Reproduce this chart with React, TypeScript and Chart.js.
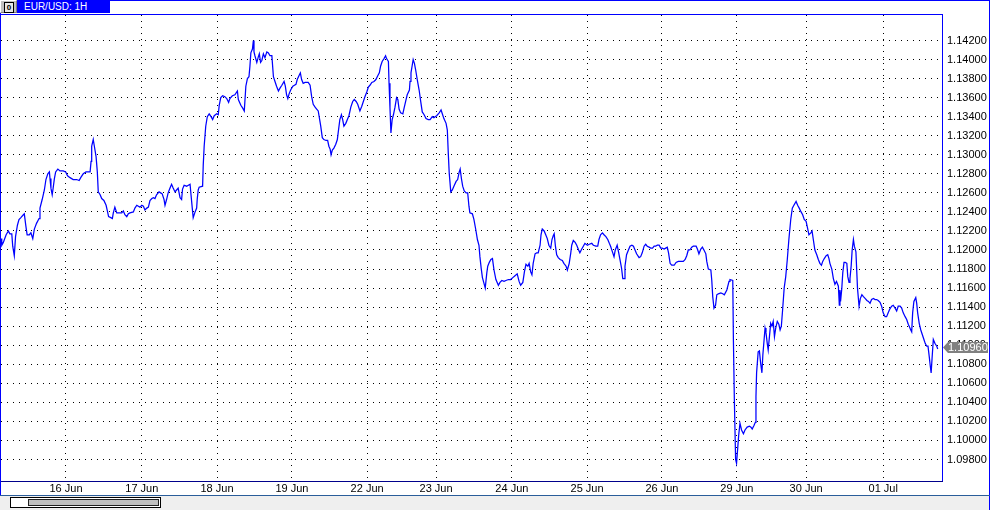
import { useEffect, useRef } from 'react';
import { Chart, registerables } from 'chart.js';

Chart.register(...registerables);

// ---------- DATA (EUR/USD, 1H closes) ----------
// hours since 16 Jun 00:00 (bar position) and close prices, in parallel arrays
const hoursA = [
  -20.7,-20.5,-20.0,-19.1,-18.4,-17.9,-17.3,-17.0,-16.5,-16.1,
  -15.5,-15.0,-14.4,-13.6,-13.3,-12.8,-12.4,-11.7,-11.2,-10.6,
  -10.1,-9.4,-8.6,-8.3,-7.6,-6.9,-6.4,-5.8,-5.3,-5.1,
  -4.8,-4.4,-4.1,-3.7,-3.3,-2.6,-1.9,-0.9,-0.1,0.5,
  1.3,2.3,3.4,4.2,4.7,5.5,6.4,7.1,7.7,8.0,
  8.2,8.7,9.0,9.6,10.0,10.3,10.9,11.4,12.1,12.8,
  13.2,13.6,14.3,14.8,15.1,15.6,16.2,17.0,17.8,18.3,
  18.8,19.4,19.9,20.4,21.5,22.0,22.6,23.1,23.6,24.2,
  24.7,25.2,25.8,26.3,26.8,27.4,27.9,28.4,28.9,29.7,
  30.2,30.7,31.3,31.6,32.1,32.6,33.2,33.7,34.2,34.8,
  35.3,35.8,36.4,36.9,37.2,37.7,38.5,39.6,39.9,40.3,
  40.6,41.2,41.7,41.9,42.2,42.5,43.6,43.8,44.1,44.6,
  45.1,45.7,46.3,46.8,47.3,48.1,48.6,48.9,49.4,50.0,
  50.7,51.3,51.9,52.3,53.1,53.9,54.7,55.0,55.8,56.4,
];
const pricesA = [
  1.1212,1.1205,1.1208,1.1216,1.1220,1.1217,1.1217,1.1204,1.1194,1.1214,
  1.1226,1.1232,1.1234,1.1237,1.1238,1.1225,1.1216,1.1216,1.1218,1.1212,
  1.1222,1.1228,1.1233,1.1244,1.1253,1.1263,1.1274,1.1280,1.1282,1.1275,
  1.1265,1.1258,1.1265,1.1275,1.1282,1.1285,1.1283,1.1283,1.1282,1.1278,
  1.1276,1.1274,1.1274,1.1273,1.1276,1.1280,1.1282,1.1282,1.1282,1.1293,
  1.1309,1.1316,1.1310,1.1298,1.1282,1.1261,1.1258,1.1254,1.1252,1.1247,
  1.1241,1.1235,1.1234,1.1233,1.1239,1.1245,1.1239,1.1239,1.1239,1.1241,
  1.1237,1.1235,1.1238,1.1239,1.1240,1.1244,1.1247,1.1246,1.1245,1.1247,
  1.1246,1.1242,1.1244,1.1245,1.1252,1.1254,1.1255,1.1254,1.1258,1.1261,
  1.1260,1.1259,1.1253,1.1247,1.1253,1.1260,1.1265,1.1269,1.1265,1.1261,
  1.1263,1.1265,1.1255,1.1253,1.1264,1.1268,1.1267,1.1269,1.1258,1.1244,
  1.1234,1.1240,1.1244,1.1254,1.1263,1.1266,1.1267,1.1289,1.1309,1.1330,
  1.1340,1.1343,1.1340,1.1337,1.1341,1.1343,1.1342,1.1352,1.1360,1.1362,
  1.1361,1.1359,1.1355,1.1359,1.1362,1.1363,1.1367,1.1358,1.1352,1.1349,
];
const hoursB = [
  56.9,57.4,57.9,58.4,58.7,59.0,59.5,59.8,60.0,60.3,
  60.9,61.4,61.7,62.1,62.5,63.0,63.5,64.1,64.6,65.1,
  65.7,66.2,66.7,67.2,67.8,68.3,68.9,69.6,70.0,70.4,
  70.8,71.2,71.7,72.4,72.9,73.4,73.8,74.5,74.8,75.2,
  75.7,76.3,77.3,77.9,78.4,78.9,79.5,80.0,80.5,80.8,
  81.3,81.8,82.3,83.0,83.5,83.9,84.3,84.6,85.0,85.5,
  86.1,86.6,86.9,87.4,87.9,88.3,88.7,89.3,89.8,90.3,
  90.9,91.5,92.0,92.6,93.1,93.8,94.4,94.9,95.4,96.0,
  96.5,97.0,97.6,98.3,98.9,99.5,100.0,100.4,100.9,101.5,
  102.0,102.3,102.9,103.1,103.4,103.7,104.1,104.5,105.0,105.5,
  105.9,106.3,106.8,107.5,107.9,108.4,108.9,109.6,109.8,110.1,
  110.5,110.8,111.2,111.6,112.1,112.7,113.2,113.7,114.3,114.9,
  115.6,116.2,116.9,117.4,118.3,119.1,119.7,120.2,120.6,121.3,
  121.7,122.0,122.3,122.8,123.3,123.8,124.5,125.0,125.5,125.8,
  126.2,126.6,127.1,127.7,128.2,128.6,128.9,129.7,130.2,130.8,
  131.3,131.8,132.1,132.5,132.9,133.4,133.8,134.3,134.6,135.1,
];
const pricesB = [
  1.1346,1.1372,1.1380,1.1382,1.1393,1.1407,1.1411,1.1420,1.1408,1.1404,
  1.1397,1.1403,1.1406,1.1397,1.1399,1.1406,1.1402,1.1408,1.1407,1.1404,
  1.1404,1.1382,1.1377,1.1372,1.1367,1.1370,1.1373,1.1377,1.1372,1.1363,
  1.1359,1.1364,1.1368,1.1372,1.1373,1.1374,1.1379,1.1384,1.1386,1.1379,
  1.1375,1.1376,1.1376,1.1373,1.1361,1.1353,1.1350,1.1348,1.1346,1.1340,
  1.1330,1.1318,1.1316,1.1315,1.1315,1.1309,1.1306,1.1300,1.1305,1.1307,
  1.1311,1.1316,1.1324,1.1337,1.1342,1.1337,1.1330,1.1333,1.1337,1.1341,
  1.1350,1.1356,1.1358,1.1356,1.1353,1.1346,1.1351,1.1356,1.1361,1.1366,
  1.1371,1.1373,1.1376,1.1377,1.1379,1.1383,1.1386,1.1393,1.1398,1.1401,
  1.1404,1.1401,1.1398,1.1375,1.1349,1.1323,1.1337,1.1342,1.1350,1.1360,
  1.1358,1.1348,1.1344,1.1343,1.1349,1.1356,1.1363,1.1368,1.1377,1.1386,
  1.1394,1.1400,1.1396,1.1389,1.1379,1.1368,1.1356,1.1345,1.1342,1.1338,
  1.1337,1.1337,1.1340,1.1339,1.1341,1.1344,1.1347,1.1342,1.1338,1.1333,
  1.1326,1.1302,1.1281,1.1261,1.1263,1.1267,1.1272,1.1274,1.1282,1.1285,
  1.1275,1.1267,1.1262,1.1260,1.1260,1.1246,1.1239,1.1238,1.1232,1.1221,
  1.1211,1.1205,1.1193,1.1181,1.1171,1.1165,1.1160,1.1176,1.1183,1.1187,
];
const hoursC = [
  135.6,136.1,136.6,137.2,138.0,138.5,139.1,139.8,140.4,141.2,
  141.9,142.6,143.3,144.0,144.6,145.1,145.8,146.3,146.8,147.4,
  147.8,148.3,148.7,149.1,149.7,150.2,150.7,151.3,151.6,152.0,
  152.6,153.1,153.6,154.1,154.7,155.1,155.5,155.8,156.2,156.6,
  157.1,157.7,158.4,158.9,159.6,160.0,160.6,161.1,161.4,161.9,
  162.5,163.0,163.6,164.0,164.6,165.1,165.6,166.4,167.0,167.8,
  168.3,169.1,169.7,170.1,170.6,171.2,171.7,172.3,172.9,173.4,
  173.8,174.5,174.9,175.3,175.9,176.4,176.8,177.3,177.7,178.1,
  178.4,178.9,179.5,180.0,180.6,181.1,181.6,182.1,182.9,183.4,
  183.9,184.5,185.0,185.5,186.1,186.6,187.2,187.7,188.2,188.7,
  189.3,189.8,190.3,190.9,191.4,191.9,192.3,192.8,193.3,194.1,
  194.7,195.4,196.2,197.0,197.6,198.1,198.6,199.1,199.7,200.2,
  201.1,201.5,202.0,202.6,203.1,203.6,204.2,204.5,205.0,205.8,
  206.1,206.4,206.8,207.3,207.7,208.2,209.0,209.6,210.1,210.9,
];
const pricesC = [
  1.1190,1.1191,1.1179,1.1169,1.1163,1.1166,1.1168,1.1167,1.1168,1.1169,
  1.1169,1.1171,1.1173,1.1175,1.1167,1.1163,1.1166,1.1177,1.1185,1.1183,
  1.1186,1.1177,1.1174,1.1186,1.1196,1.1197,1.1197,1.1205,1.1216,1.1222,
  1.1220,1.1216,1.1212,1.1205,1.1202,1.1211,1.1215,1.1217,1.1204,1.1195,
  1.1192,1.1190,1.1189,1.1186,1.1183,1.1179,1.1186,1.1197,1.1205,1.1210,
  1.1208,1.1205,1.1200,1.1197,1.1201,1.1204,1.1207,1.1205,1.1206,1.1207,
  1.1205,1.1204,1.1204,1.1211,1.1216,1.1218,1.1216,1.1214,1.1211,1.1207,
  1.1204,1.1197,1.1193,1.1200,1.1205,1.1197,1.1190,1.1181,1.1170,1.1170,
  1.1183,1.1195,1.1200,1.1204,1.1205,1.1204,1.1200,1.1196,1.1192,1.1193,
  1.1197,1.1204,1.1206,1.1204,1.1203,1.1202,1.1202,1.1204,1.1204,1.1205,
  1.1205,1.1202,1.1202,1.1201,1.1202,1.1203,1.1197,1.1186,1.1184,1.1184,
  1.1187,1.1188,1.1188,1.1188,1.1190,1.1194,1.1200,1.1200,1.1203,1.1204,
  1.1204,1.1201,1.1196,1.1201,1.1203,1.1200,1.1196,1.1188,1.1180,1.1179,
  1.1168,1.1151,1.1139,1.1142,1.1153,1.1154,1.1155,1.1154,1.1153,1.1158,
];
const hoursD = [
  211.6,211.9,212.8,213.0,213.3,213.7,214.0,214.4,214.7,215.1,
  215.6,216.2,216.7,217.4,218.1,218.6,219.0,219.6,220.0,220.2,
  220.4,220.9,221.3,221.7,222.1,222.4,222.8,223.1,223.4,223.8,
  224.1,224.5,224.9,225.3,225.7,226.1,226.5,227.0,227.5,227.9,
  228.3,228.7,229.2,229.7,230.2,230.7,231.3,231.8,232.3,233.0,
  233.5,234.0,234.6,235.1,235.6,236.2,236.6,237.1,237.7,238.1,
  238.5,239.0,239.6,240.1,240.6,241.1,241.5,242.0,242.6,243.1,
  243.5,243.8,244.4,244.9,245.4,245.9,246.5,246.8,247.0,247.2,
  247.6,247.9,248.3,248.7,249.2,249.5,249.9,250.2,250.6,250.9,
  251.3,251.6,252.1,252.6,253.1,253.5,254.0,254.5,255.1,255.6,
  256.1,256.6,257.1,257.7,258.2,258.7,259.2,259.8,260.3,260.8,
  261.4,261.9,262.4,262.9,263.5,264.0,264.6,265.1,265.6,266.2,
  266.7,267.2,267.8,268.3,268.8,269.1,269.6,269.9,270.2,270.6,
  271.2,271.5,271.8,272.3,272.8,273.3,273.8,274.2,274.7,275.1,
  275.5,275.8,276.1,276.4,276.8,277.3,277.9,278.2,
];
const pricesD = [
  1.1167,1.1169,1.1168,1.1105,1.1043,1.0980,1.0976,1.0993,1.1006,1.1018,
  1.1011,1.1007,1.1011,1.1014,1.1015,1.1014,1.1012,1.1016,1.1019,1.1046,
  1.1071,1.1093,1.1094,1.1081,1.1071,1.1090,1.1106,1.1118,1.1113,1.1102,
  1.1095,1.1109,1.1123,1.1120,1.1125,1.1109,1.1118,1.1125,1.1122,1.1116,
  1.1120,1.1137,1.1160,1.1172,1.1190,1.1211,1.1232,1.1244,1.1247,1.1251,
  1.1247,1.1244,1.1240,1.1237,1.1232,1.1230,1.1224,1.1216,1.1218,1.1220,
  1.1211,1.1200,1.1195,1.1190,1.1186,1.1184,1.1188,1.1191,1.1194,1.1195,
  1.1191,1.1186,1.1180,1.1170,1.1164,1.1167,1.1162,1.1142,1.1158,1.1146,
  1.1160,1.1176,1.1187,1.1187,1.1186,1.1172,1.1166,1.1170,1.1184,1.1200,
  1.1211,1.1204,1.1198,1.1160,1.1141,1.1149,1.1153,1.1151,1.1149,1.1147,
  1.1146,1.1144,1.1148,1.1149,1.1148,1.1148,1.1147,1.1145,1.1141,1.1134,
  1.1130,1.1130,1.1134,1.1138,1.1141,1.1142,1.1139,1.1136,1.1141,1.1141,
  1.1139,1.1134,1.1130,1.1127,1.1122,1.1120,1.1116,1.1114,1.1134,1.1146,
  1.1150,1.1144,1.1134,1.1123,1.1116,1.1111,1.1106,1.1102,1.1099,1.1099,
  1.1088,1.1079,1.1071,1.1086,1.1106,1.1102,1.1099,1.1096,
];

// date labels and the bar position where each day begins
const dayLabels = ['16 Jun', '17 Jun', '18 Jun', '19 Jun', '22 Jun', '23 Jun', '24 Jun', '25 Jun', '26 Jun', '29 Jun', '30 Jun', '01 Jul'];
const dayStartHour = [0, 24.2, 48.2, 72.1, 96.1, 118.1, 142.3, 166.3, 190.2, 214.1, 236.2, 260.8];

// price axis tick labels
const priceTicks = [
  1.098, 1.100, 1.102, 1.104, 1.106, 1.108, 1.110, 1.112, 1.114, 1.116, 1.118, 1.120,
  1.122, 1.124, 1.126, 1.128, 1.130, 1.132, 1.134, 1.136, 1.138, 1.140, 1.142,
];
const lastPrice = 1.1096;
const symbolTitle = 'EUR/USD: 1H';

// ---------- LAYOUT ----------
const W = 990;
const H = 510;
const PLOT = { left: 1, top: 15, right: 942, bottom: 481 };
const X_RANGE = { min: -20.74, max: 279.57 };
const Y_RANGE = { min: 1.095742, max: 1.144678 };
const FONT = '"Liberation Sans", Arial, sans-serif';

export default function App() {
  const canvasRef = useRef<HTMLCanvasElement | null>(null);

  useEffect(() => {
    const canvas = canvasRef.current;
    if (!canvas) return;

    const hours = [...hoursA, ...hoursB, ...hoursC, ...hoursD];
    const prices = [...pricesA, ...pricesB, ...pricesC, ...pricesD];
    const points = hours.map((h, i) => ({ x: h, y: prices[i] }));

    const framePlugin = {
      id: 'frame',
      beforeDraw(chart: any) {
        const ctx = chart.ctx;
        ctx.save();
        ctx.fillStyle = '#ffffff';
        ctx.fillRect(0, 0, W, H);
        ctx.restore();
      },
      afterDraw(chart: any) {
        const ctx = chart.ctx;
        const ys = chart.scales.y;
        ctx.save();
        // plot frame
        ctx.fillStyle = '#0000ff';
        ctx.fillRect(0, 14, PLOT.right + 1, 1);
        ctx.fillRect(PLOT.right, 14, 1, PLOT.bottom - 14);
        ctx.fillStyle = '#00008b';
        ctx.fillRect(0, PLOT.bottom, PLOT.right + 1, 1);
        // window frame
        ctx.fillStyle = '#0000ff';
        ctx.fillRect(0, 0, W, 1);
        ctx.fillRect(W - 1, 0, 1, H);
        ctx.fillRect(0, 0, 1, 495);
        // bottom scroll area
        ctx.fillStyle = '#efefef';
        ctx.fillRect(0, 496, W - 1, H - 496);
        ctx.fillStyle = '#2a5d9a';
        ctx.fillRect(0, 495, W, 1);
        ctx.fillStyle = '#ffffff';
        ctx.fillRect(11, 498, 149, 9);
        ctx.strokeStyle = '#000000';
        ctx.lineWidth = 1;
        ctx.strokeRect(10.5, 497.5, 150, 10);
        ctx.fillStyle = '#c0c0c0';
        ctx.fillRect(29, 500, 129, 5);
        ctx.strokeStyle = '#202020';
        ctx.strokeRect(28.5, 499.5, 130, 6);
        // last price tag
        const y = Math.round(ys.getPixelForValue(lastPrice)) - 1.5;
        ctx.fillStyle = '#808080';
        ctx.beginPath();
        ctx.moveTo(943, y);
        ctx.lineTo(948, y - 5.5);
        ctx.lineTo(988, y - 5.5);
        ctx.lineTo(988, y + 5.5);
        ctx.lineTo(948, y + 5.5);
        ctx.closePath();
        ctx.fill();
        ctx.fillStyle = '#ffffff';
        ctx.font = `11px ${FONT}`;
        ctx.textBaseline = 'middle';
        ctx.textAlign = 'left';
        ctx.fillText(lastPrice.toFixed(5), 948, y + 0.5);
        ctx.restore();
      },
    };

    const gridCommon = {
      color: '#000000',
      lineWidth: 1,
      drawTicks: false,
      tickLength: 0,
    };

    const chart = new Chart(canvas, {
      type: 'line',
      data: {
        datasets: [
          {
            data: points,
            borderColor: '#0000ff',
            borderWidth: 1.25,
            pointRadius: 0,
            tension: 0,
            fill: false,
          },
        ],
      },
      options: {
        responsive: false,
        maintainAspectRatio: false,
        animation: false,
        devicePixelRatio: 1,
        events: [],
        layout: { padding: { left: PLOT.left, top: PLOT.top, right: 0, bottom: 0 } },
        plugins: {
          legend: { display: false },
          tooltip: { enabled: false },
          title: { display: false },
        },
        scales: {
          x: {
            type: 'linear',
            min: X_RANGE.min,
            max: X_RANGE.max,
            bounds: 'data',
            afterBuildTicks: (axis: any) => {
              axis.ticks = dayStartHour.map((v) => ({ value: v }));
            },
            afterFit: (axis: any) => {
              axis.height = H - PLOT.bottom;
            },
            ticks: {
              autoSkip: false,
              maxRotation: 0,
              minRotation: 0,
              padding: 1,
              color: '#000000',
              font: { family: FONT, size: 11 },
              callback: (_v: any, i: number) => dayLabels[i],
            },
            grid: gridCommon,
            border: { display: false, dash: [1, 5] },
          },
          y: {
            type: 'linear',
            position: 'right',
            min: Y_RANGE.min,
            max: Y_RANGE.max,
            bounds: 'data',
            afterBuildTicks: (axis: any) => {
              axis.ticks = priceTicks.map((v) => ({ value: v }));
            },
            afterFit: (axis: any) => {
              axis.width = W - PLOT.right;
            },
            ticks: {
              autoSkip: false,
              padding: 5,
              color: '#000000',
              font: { family: FONT, size: 11 },
              callback: (v: any) => Number(v).toFixed(5),
            },
            grid: gridCommon,
            border: { display: false, dash: [1, 5] },
          },
        },
      } as any,
      plugins: [framePlugin],
    });

    return () => {
      chart.destroy();
    };
  }, []);

  return (
    <div style={{ position: 'absolute', left: 0, top: 0, width: W, height: H, background: '#fff', overflow: 'hidden' }}>
      <canvas
        ref={canvasRef}
        width={W}
        height={H}
        style={{ position: 'absolute', left: 0, top: 0, width: W, height: H }}
      />
      <div
        style={{
          position: 'absolute', left: 0, top: 0, width: 17, height: 13,
          background: '#c0c0c0', boxSizing: 'border-box',
          borderTop: '1px solid #ffffff', borderLeft: '1px solid #ffffff',
          borderRight: '1px solid #808080', borderBottom: '1px solid #808080',
        }}
      >
        <div
          style={{
            position: 'absolute', left: 3, top: 1, width: 8, height: 9,
            border: '1px solid #000', background: '#e8e8e8', color: '#000',
            font: `bold 8px ${FONT}`, lineHeight: '9px', textAlign: 'center',
          }}
        >
          0
        </div>
      </div>
      <div
        style={{
          position: 'absolute', left: 17, top: 0, width: 93, height: 13,
          background: '#0000ff', color: '#ffffff', boxSizing: 'border-box',
          paddingLeft: 7, font: `10px ${FONT}`, lineHeight: '13px', whiteSpace: 'nowrap',
        }}
      >
        {symbolTitle}
      </div>
    </div>
  );
}
